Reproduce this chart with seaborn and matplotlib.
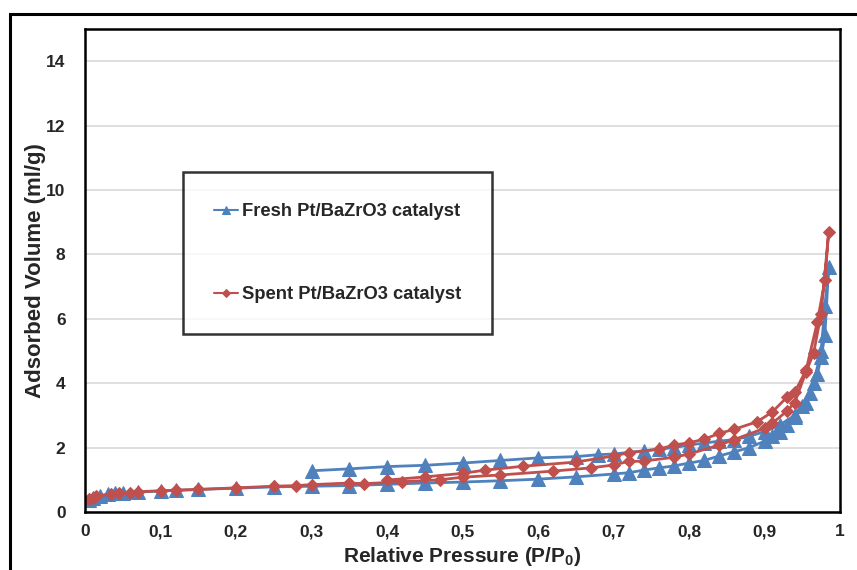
import matplotlib
matplotlib.use('Agg')
import matplotlib.pyplot as plt
from matplotlib.patches import Rectangle
from matplotlib.ticker import FuncFormatter
import seaborn as sns

# Fresh Pt/BaZrO3 catalyst: adsorption branch, then desorption branch
fresh_ads_p = [0.005, 0.01, 0.02, 0.03, 0.04, 0.05, 0.07, 0.1, 0.12, 0.15, 0.2, 0.25, 0.3, 0.35,
               0.4, 0.45, 0.5, 0.55, 0.6, 0.65, 0.7, 0.72, 0.74, 0.76, 0.78, 0.8, 0.82, 0.84,
               0.86, 0.88, 0.9, 0.91, 0.92, 0.93, 0.94, 0.95, 0.96, 0.97, 0.975, 0.98, 0.985]
fresh_ads_v = [0.38, 0.45, 0.5, 0.55, 0.58, 0.6, 0.62, 0.65, 0.67, 0.7, 0.74, 0.78, 0.8, 0.82,
               0.86, 0.9, 0.93, 0.97, 1.02, 1.09, 1.18, 1.22, 1.3, 1.37, 1.43, 1.52, 1.6, 1.74,
               1.87, 2.0, 2.2, 2.35, 2.5, 2.7, 2.95, 3.3, 3.7, 4.3, 4.8, 5.5, 7.6]
fresh_des_p = [0.98, 0.975, 0.965, 0.955, 0.94, 0.92, 0.9, 0.88, 0.86, 0.84, 0.82, 0.8, 0.78,
               0.76, 0.74, 0.7, 0.68, 0.65, 0.6, 0.55, 0.5, 0.45, 0.4, 0.35, 0.3]
fresh_des_v = [6.4, 5.0, 4.0, 3.4, 3.0, 2.7, 2.5, 2.35, 2.25, 2.2, 2.14, 2.08, 2.0,
               1.95, 1.9, 1.8, 1.78, 1.72, 1.68, 1.6, 1.52, 1.45, 1.41, 1.34, 1.28]

# Spent Pt/BaZrO3 catalyst
spent_ads_p = [0.005, 0.01, 0.015, 0.035, 0.045, 0.06, 0.07, 0.1, 0.12, 0.15, 0.2, 0.25, 0.28,
               0.3, 0.35, 0.37, 0.42, 0.47, 0.5, 0.55, 0.62, 0.67, 0.7, 0.72, 0.74, 0.78, 0.8,
               0.84, 0.86, 0.9, 0.91, 0.93, 0.94, 0.955, 0.965, 0.975, 0.985]
spent_ads_v = [0.4, 0.45, 0.5, 0.55, 0.58, 0.6, 0.63, 0.66, 0.68, 0.7, 0.75, 0.8, 0.82,
               0.85, 0.9, 0.88, 0.94, 1.0, 1.08, 1.15, 1.27, 1.37, 1.46, 1.57, 1.58, 1.7, 1.8,
               2.08, 2.25, 2.6, 2.75, 3.14, 3.4, 4.35, 4.93, 6.15, 8.7]
spent_des_p = [0.98, 0.97, 0.955, 0.94, 0.93, 0.91, 0.89, 0.86, 0.84, 0.82, 0.8, 0.78, 0.76,
               0.72, 0.7, 0.65, 0.58, 0.53, 0.5, 0.45, 0.4]
spent_des_v = [7.2, 5.9, 4.4, 3.72, 3.57, 3.1, 2.8, 2.57, 2.44, 2.26, 2.15, 2.08, 1.95,
               1.84, 1.74, 1.55, 1.42, 1.3, 1.2, 1.09, 0.99]

labels = ['Fresh Pt/BaZrO3 catalyst', 'Spent Pt/BaZrO3 catalyst']
colors = ['#4F81BD', '#C0504D']

sns.set_style('white')
plt.rcParams['font.family'] = ['Liberation Sans', 'DejaVu Sans']
plt.rcParams['mathtext.fontset'] = 'custom'
plt.rcParams['mathtext.bf'] = 'Liberation Sans:bold'
plt.rcParams['mathtext.rm'] = 'Liberation Sans:bold'

fig = plt.figure(figsize=(8.57, 5.70), dpi=100)
ax = fig.add_axes([85 / 857, 1 - 512 / 570, 755 / 857, 483 / 570])

sns.lineplot(x=fresh_ads_p + fresh_des_p, y=fresh_ads_v + fresh_des_v, sort=False, estimator=None,
             color=colors[0], marker='^', markersize=9.5, markeredgecolor=colors[0], linewidth=2,
             label=labels[0], ax=ax)
sns.lineplot(x=spent_ads_p + spent_des_p, y=spent_ads_v + spent_des_v, sort=False, estimator=None,
             color=colors[1], marker='D', markersize=6.5, markeredgecolor=colors[1], linewidth=2,
             label=labels[1], ax=ax)

ax.set_xlim(0, 1)
ax.set_ylim(0, 15)
ax.set_xticks([i / 10 for i in range(11)])
ax.set_yticks(range(0, 15, 2))
ax.xaxis.set_major_formatter(FuncFormatter(lambda v, _: f'{v:g}'.replace('.', ',')))
ax.yaxis.grid(True, color='#D9D9D9', linewidth=1.2)
ax.set_axisbelow(True)
ax.tick_params(axis='x', direction='in', length=4, color='#BFBFBF', labelsize=12.5, pad=9)
ax.tick_params(axis='y', length=0, labelsize=12.5, pad=14)
for lbl in ax.get_xticklabels() + ax.get_yticklabels():
    lbl.set_fontweight('bold')
for sp in ax.spines.values():
    sp.set_color('black')
    sp.set_linewidth(1.8)

ax.set_xlabel(r'Relative Pressure (P/P$_\mathbf{0}$)', fontsize=15, fontweight='bold', labelpad=4)
ax.set_ylabel('Adsorbed Volume (ml/g)', fontsize=16, fontweight='bold', labelpad=0)

leg = ax.legend(loc='upper left', bbox_to_anchor=(0.13, 0.704), borderaxespad=0,
                prop={'weight': 'bold', 'size': 13.2}, frameon=True, fancybox=False,
                edgecolor='black', labelspacing=3.6, borderpad=1.7, handlelength=1.3,
                handletextpad=0.2, markerscale=0.6)
leg.get_frame().set_linewidth(1.8)
for h in leg.get_lines():
    h.set_linewidth(1.5)

fig.patches.append(Rectangle((10 / 857, -0.2), 1.2, 1.2 - 14 / 570, transform=fig.transFigure,
                             fill=False, edgecolor='black', linewidth=2.2))

fig.savefig('out.png', dpi=100)
